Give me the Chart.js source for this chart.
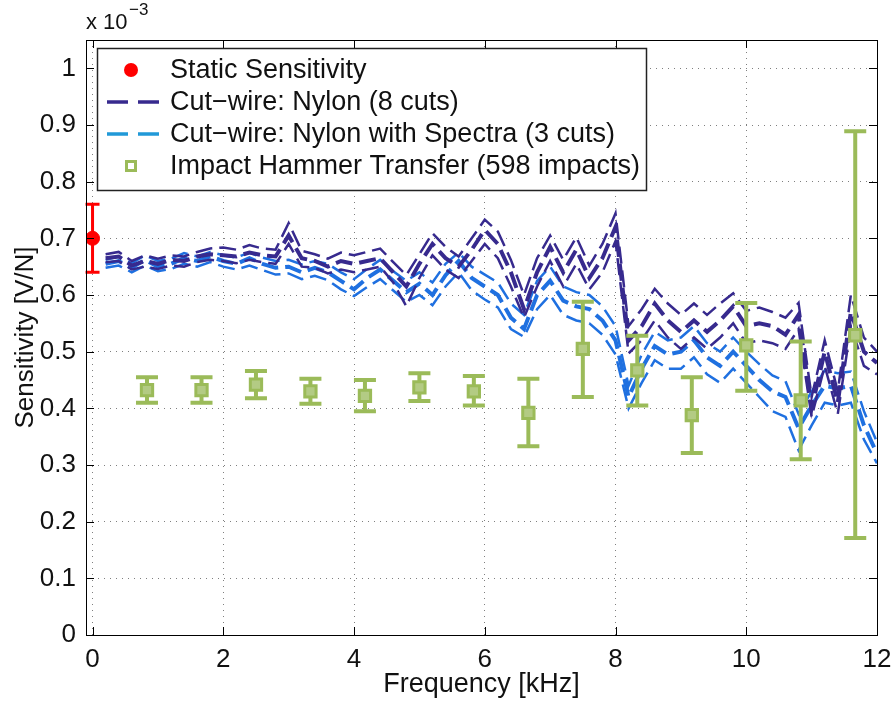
<!DOCTYPE html>
<html><head><meta charset="utf-8">
<script src="https://cdn.jsdelivr.net/npm/chart.js@4.4.0/dist/chart.umd.min.js"></script>
<style>html,body{margin:0;padding:0;background:#fff;}#wrap{width:894px;height:701px;}</style>
</head><body><div id="wrap"><canvas id="c" width="894" height="701"></canvas></div>
<script>
// ---- data ----
const freq = [0.2,0.4,0.6,0.8,1.0,1.2,1.4,1.6,1.8,2.0,2.2,2.4,2.6,2.8,3.0,3.2,3.4,3.6,3.8,4.0,
  4.2,4.4,4.6,4.8,5.0,5.2,5.4,5.6,5.8,6.0,6.2,6.4,6.6,6.8,7.0,7.2,7.4,7.6,7.8,8.0,
  8.2,8.4,8.6,8.8,9.0,9.2,9.4,9.6,9.8,10.0,10.2,10.4,10.6,10.8,11.0,11.2,11.4,11.6,11.8,12.0];
const nylonMean = [0.665,0.668,0.652,0.660,0.655,0.662,0.660,0.668,0.672,0.670,0.668,0.675,0.670,0.668,0.705,0.665,0.660,0.650,0.660,0.655,
  0.660,0.665,0.640,0.615,0.655,0.690,0.665,0.650,0.680,0.715,0.690,0.640,0.575,0.640,0.685,0.640,0.680,0.630,0.665,0.720,
  0.520,0.545,0.585,0.555,0.535,0.555,0.535,0.555,0.580,0.545,0.550,0.545,0.530,0.565,0.400,0.500,0.410,0.570,0.500,0.480];
const nylonUpper = [0.672,0.676,0.660,0.670,0.664,0.670,0.668,0.676,0.682,0.684,0.680,0.688,0.682,0.680,0.727,0.678,0.672,0.664,0.675,0.670,
  0.676,0.682,0.658,0.635,0.672,0.709,0.685,0.668,0.700,0.733,0.712,0.662,0.600,0.665,0.705,0.662,0.702,0.652,0.690,0.744,
  0.545,0.575,0.611,0.585,0.565,0.585,0.565,0.585,0.603,0.572,0.578,0.570,0.560,0.586,0.420,0.520,0.430,0.600,0.525,0.500];
const nylonLower = [0.658,0.660,0.645,0.650,0.646,0.652,0.650,0.658,0.662,0.660,0.656,0.662,0.658,0.655,0.690,0.650,0.648,0.638,0.645,0.640,
  0.645,0.650,0.622,0.580,0.630,0.670,0.645,0.630,0.660,0.690,0.665,0.615,0.560,0.615,0.660,0.615,0.655,0.610,0.640,0.695,
  0.497,0.520,0.555,0.525,0.505,0.525,0.505,0.525,0.550,0.515,0.520,0.515,0.505,0.540,0.385,0.475,0.390,0.545,0.475,0.460];
const spectraMean = [0.655,0.660,0.648,0.662,0.650,0.655,0.665,0.660,0.668,0.660,0.655,0.665,0.655,0.648,0.650,0.640,0.648,0.640,0.625,0.610,
  0.630,0.645,0.625,0.605,0.620,0.600,0.635,0.660,0.630,0.615,0.600,0.560,0.540,0.600,0.625,0.590,0.580,0.575,0.555,0.520,
  0.420,0.470,0.510,0.495,0.500,0.520,0.490,0.475,0.500,0.475,0.450,0.430,0.420,0.365,0.405,0.440,0.435,0.440,0.370,0.320];
const spectraUpper = [0.662,0.668,0.656,0.670,0.660,0.664,0.674,0.668,0.676,0.670,0.666,0.675,0.666,0.660,0.662,0.654,0.660,0.655,0.640,0.628,
  0.646,0.662,0.642,0.625,0.640,0.622,0.655,0.675,0.650,0.636,0.622,0.585,0.565,0.625,0.650,0.615,0.605,0.600,0.580,0.545,
  0.440,0.495,0.535,0.520,0.525,0.545,0.515,0.500,0.525,0.500,0.478,0.458,0.448,0.390,0.430,0.467,0.462,0.465,0.395,0.340];
const spectraLower = [0.648,0.652,0.640,0.652,0.642,0.646,0.655,0.650,0.658,0.650,0.645,0.652,0.644,0.636,0.638,0.628,0.634,0.626,0.610,0.598,
  0.614,0.628,0.608,0.588,0.600,0.582,0.615,0.640,0.608,0.592,0.578,0.540,0.526,0.575,0.600,0.565,0.555,0.550,0.530,0.495,
  0.400,0.445,0.485,0.470,0.470,0.490,0.460,0.445,0.470,0.445,0.420,0.395,0.385,0.326,0.370,0.410,0.405,0.410,0.345,0.303];
const staticFreq = [0];
const staticVal = [0.70];
const staticLo = [0.64];
const staticHi = [0.76];
const hammerFreq = [0.833,1.667,2.5,3.333,4.167,5.0,5.833,6.667,7.5,8.333,9.167,10.0,10.833,11.667];
const hammerVal = [0.432,0.432,0.442,0.430,0.422,0.437,0.430,0.392,0.505,0.467,0.388,0.511,0.414,0.529];
const hammerLo  = [0.410,0.410,0.418,0.408,0.395,0.413,0.405,0.333,0.420,0.405,0.321,0.431,0.310,0.171];
const hammerHi  = [0.455,0.455,0.466,0.452,0.450,0.462,0.457,0.452,0.588,0.528,0.455,0.586,0.518,0.889];
const xTicks = [0,2,4,6,8,10,12];
const yTicks = [0,0.1,0.2,0.3,0.4,0.5,0.6,0.7,0.8,0.9,1.0];
const yTickLabels = ['0','0.1','0.2','0.3','0.4','0.5','0.6','0.7','0.8','0.9','1'];
const legendLabels = ['Static Sensitivity','Cut\u2212wire: Nylon (8 cuts)','Cut\u2212wire: Nylon with Spectra (3 cuts)','Impact Hammer Transfer (598 impacts)'];

// ---- styles ----
const FONT = "'Liberation Sans', Arial, Helvetica, sans-serif";
const DARK = '#372a8e';
const LIGHT = '#1f70e0';
const LIGHT_LEG = '#2199d8';
const GREEN = '#9bbb59';
const RED = '#ff0000';

const pts = (xs, ys) => xs.map((x, i) => ({x: x, y: ys[i]}));
const lineDs = (ys, color, w) => ({
  type: 'line', data: pts(freq, ys), borderColor: color, borderWidth: w,
  borderDash: [17, 7], pointRadius: 0, tension: 0, fill: false, order: 2
});

const errorBars = {
  id: 'errorBars',
  beforeDatasetDraw(chart, args) {
    const ds = chart.data.datasets[args.index];
    if (!ds.errLo) return;
    const {ctx, scales: {x, y}} = chart;
    ctx.save();
    ctx.strokeStyle = ds.errColor; ctx.lineWidth = ds.errWidth; ctx.setLineDash([]);
    ds.data.forEach((p, i) => {
      const px = x.getPixelForValue(p.x);
      const lo = y.getPixelForValue(ds.errLo[i]);
      const hi = y.getPixelForValue(ds.errHi[i]);
      ctx.beginPath();
      ctx.moveTo(px, lo); ctx.lineTo(px, hi);
      ctx.moveTo(px - ds.capHalf, lo); ctx.lineTo(px + ds.capHalf, lo);
      ctx.moveTo(px - ds.capHalf, hi); ctx.lineTo(px + ds.capHalf, hi);
      ctx.stroke();
    });
    ctx.restore();
  }
};

const frame = {
  id: 'frame',
  afterDraw(chart) {
    const {ctx, chartArea: a, scales: {x, y}} = chart;
    ctx.save();
    ctx.setLineDash([]);
    ctx.strokeStyle = '#000'; ctx.lineWidth = 1;
    ctx.strokeRect(Math.round(a.left) + 0.5, Math.round(a.top) + 0.5, Math.round(a.right - a.left), Math.round(a.bottom - a.top));
    ctx.beginPath();
    xTicks.forEach(v => {
      const px = Math.round(x.getPixelForValue(v)) + 0.5;
      ctx.moveTo(px, a.bottom); ctx.lineTo(px, a.bottom - 8);
      ctx.moveTo(px, a.top); ctx.lineTo(px, a.top + 8);
    });
    yTicks.forEach(v => {
      const py = Math.round(y.getPixelForValue(v)) + 0.5;
      ctx.moveTo(a.left, py); ctx.lineTo(a.left + 8, py);
      ctx.moveTo(a.right, py); ctx.lineTo(a.right - 8, py);
    });
    ctx.stroke();
    // exponent label
    ctx.fillStyle = '#111';
    ctx.textBaseline = 'alphabetic'; ctx.textAlign = 'left';
    ctx.font = '22px ' + FONT;
    ctx.fillText('x 10', 86, 29);
    ctx.font = '17px ' + FONT;
    ctx.fillText('\u22123', 129, 15);

    // legend
    const L = 97, T = 48, R = 646, B = 190;
    ctx.fillStyle = '#fff';
    ctx.fillRect(L, T, R - L, B - T);
    ctx.strokeStyle = '#222'; ctx.lineWidth = 1.5;
    ctx.strokeRect(L + 0.5, T + 0.5, R - L, B - T);
    const rows = [70, 102, 134, 166];
    ctx.font = '27px ' + FONT;
    ctx.textBaseline = 'middle';
    ctx.fillStyle = '#111';
    legendLabels.forEach((t, i) => ctx.fillText(t, 170, rows[i] + 1));
    // symbols
    ctx.fillStyle = RED;
    ctx.beginPath(); ctx.arc(131, rows[0], 7, 0, Math.PI * 2); ctx.fill();
    ctx.lineWidth = 3.5; ctx.setLineDash([21, 10]);
    ctx.strokeStyle = DARK;
    ctx.beginPath(); ctx.moveTo(107, rows[1]); ctx.lineTo(159, rows[1]); ctx.stroke();
    ctx.strokeStyle = LIGHT_LEG;
    ctx.beginPath(); ctx.moveTo(107, rows[2]); ctx.lineTo(159, rows[2]); ctx.stroke();
    ctx.setLineDash([]);
    ctx.strokeStyle = GREEN; ctx.lineWidth = 3;
    ctx.strokeRect(126.5, rows[3] - 4.5, 9, 9);
    ctx.restore();
  }
};

const axisFont = {family: FONT, size: 26};
new Chart(document.getElementById('c'), {
  data: {
    datasets: [
      {type: 'scatter', data: pts(staticFreq, staticVal), backgroundColor: RED, borderColor: RED,
        pointRadius: 7, pointHoverRadius: 7, order: 0,
        errLo: staticLo, errHi: staticHi, errColor: RED, errWidth: 3, capHalf: 7},
      {type: 'scatter', data: pts(hammerFreq, hammerVal), backgroundColor: '#b3cb84', borderColor: GREEN,
        borderWidth: 3, pointStyle: 'rect', pointRadius: 8, pointHoverRadius: 8, order: 0,
        errLo: hammerLo, errHi: hammerHi, errColor: GREEN, errWidth: 4, capHalf: 11},
      lineDs(nylonUpper, DARK, 2.5),
      lineDs(nylonMean, DARK, 4),
      lineDs(nylonLower, DARK, 2.5),
      lineDs(spectraUpper, LIGHT, 2.5),
      lineDs(spectraMean, LIGHT, 4),
      lineDs(spectraLower, LIGHT, 2.5)
    ]
  },
  options: {
    responsive: false, animation: false, devicePixelRatio: 1,
    layout: {padding: {left: 0, right: 17, top: 40, bottom: 0}},
    plugins: {legend: {display: false}, tooltip: {enabled: false}},
    scales: {
      x: {
        type: 'linear', min: -0.1, max: 12,
        afterBuildTicks: s => { s.ticks = xTicks.map(v => ({value: v})); },
        afterFit: s => { s.height = 66; s.paddingLeft = 0; s.paddingRight = 0; },
        grid: {color: 'rgba(0,0,0,0.5)', lineWidth: 1, drawTicks: false},
        border: {display: false, dash: [1, 5]},
        ticks: {font: axisFont, color: '#111', padding: 9, maxRotation: 0, autoSkip: false,
          callback: v => String(v)},
        title: {display: true, text: 'Frequency [kHz]', font: {family: FONT, size: 27}, color: '#111',
          padding: {top: 0, bottom: 0}}
      },
      y: {
        type: 'linear', min: 0, max: 1.05,
        afterBuildTicks: s => { s.ticks = yTicks.map(v => ({value: v})); },
        afterFit: s => { s.width = 86; s.paddingTop = 0; s.paddingBottom = 0; },
        grid: {color: 'rgba(0,0,0,0.5)', lineWidth: 1, drawTicks: false},
        border: {display: false, dash: [1, 5]},
        ticks: {font: axisFont, color: '#111', padding: 10, autoSkip: false,
          callback: (v, i) => yTickLabels[i]},
        title: {display: true, text: 'Sensitivity [V/N]', font: {family: FONT, size: 26}, color: '#111',
          padding: {top: 10, bottom: 0}}
      }
    }
  },
  plugins: [errorBars, frame]
});
</script></body></html>
